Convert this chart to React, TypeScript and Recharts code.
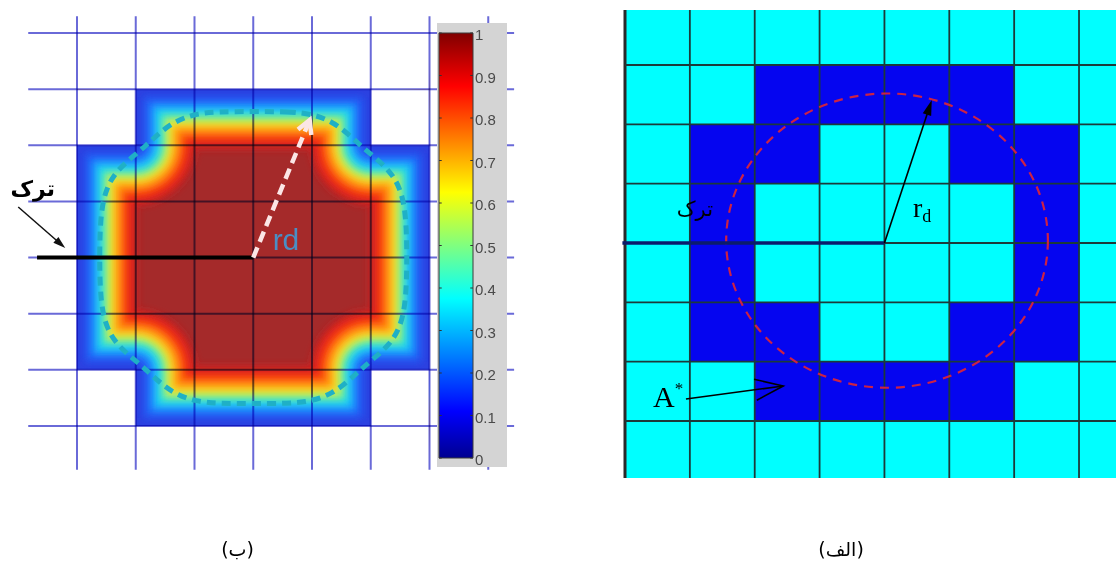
import React from 'react'
import { ComposedChart, XAxis, YAxis, Scatter, ReferenceArea, ReferenceLine, ReferenceDot } from 'recharts'

// ---- left panel (ب): smoothed field over a cross of cells, in grid units ----
// column lines j = 0..7, row lines i = 0..7 (i grows downward)
const crossOutline = [
  { x: 1, y: 1 }, { x: 5, y: 1 }, { x: 5, y: 2 }, { x: 6, y: 2 }, { x: 6, y: 6 }, { x: 5, y: 6 },
  { x: 5, y: 7 }, { x: 1, y: 7 }, { x: 1, y: 6 }, { x: 0, y: 6 }, { x: 0, y: 2 }, { x: 1, y: 2 }, { x: 1, y: 1 },
]
// depth (grid units, from the cross edge) where each colour band ends
const bandDepth = [1.03, 0.93, 0.83, 0.73, 0.63, 0.54, 0.46, 0.36, 0.26, 0.14]
const bandColor = ['#d42424', '#f22a18', '#ff6a10', '#ffaa14', '#f4e82a', '#90f080', '#28e0e8', '#1aa8ff', '#2060f8', '#2b3fe0']
const coreColor = '#a52a2a'

// the dashed cyan level line
const dashedContour = [
  { x: 3, y: 1.4 }, { x: 3.6, y: 1.4 }, { x: 4.0, y: 1.44 }, { x: 4.35, y: 1.58 }, { x: 4.62, y: 1.8 }, { x: 4.82, y: 2.0 },
  { x: 5.05, y: 2.2 }, { x: 5.32, y: 2.45 }, { x: 5.5, y: 2.75 }, { x: 5.6, y: 3.2 }, { x: 5.62, y: 4 },
  { x: 5.6, y: 4.8 }, { x: 5.5, y: 5.25 }, { x: 5.32, y: 5.55 }, { x: 5.05, y: 5.8 }, { x: 4.82, y: 6.0 },
  { x: 4.62, y: 6.2 }, { x: 4.35, y: 6.42 }, { x: 4.0, y: 6.56 }, { x: 3.6, y: 6.6 }, { x: 3, y: 6.6 },
  { x: 2.4, y: 6.6 }, { x: 2.0, y: 6.56 }, { x: 1.65, y: 6.42 }, { x: 1.38, y: 6.2 }, { x: 1.18, y: 6.0 },
  { x: 0.95, y: 5.8 }, { x: 0.68, y: 5.55 }, { x: 0.5, y: 5.25 }, { x: 0.4, y: 4.8 }, { x: 0.38, y: 4 },
  { x: 0.4, y: 3.2 }, { x: 0.5, y: 2.75 }, { x: 0.68, y: 2.45 }, { x: 0.95, y: 2.2 }, { x: 1.18, y: 2.0 },
  { x: 1.38, y: 1.8 }, { x: 1.65, y: 1.58 }, { x: 2.0, y: 1.44 }, { x: 2.4, y: 1.4 },
]
const leftCols = [0, 1, 2, 3, 4, 5, 6, 7]
const leftRows = [0, 1, 2, 3, 4, 5, 6, 7]

// colour bar
const cbTicks = [0, 0.1, 0.2, 0.3, 0.4, 0.5, 0.6, 0.7, 0.8, 0.9, 1]
const cbRange = [{ x: 0, y: 0 }, { x: 1, y: 1 }]
const jetStops: [number, string][] = [
  [0, '#000090'], [0.11, '#0000ff'], [0.375, '#00ffff'], [0.625, '#ffff00'], [0.875, '#ff0000'], [1, '#800000'],
]

// ---- right panel (الف): cells, column lines k = 0..7, row lines h = 0..6 ----
const rightCols = [0, 1, 2, 3, 4, 5, 6, 7]
const rightRows = [0, 1, 2, 3, 4, 5, 6]
// [column, row] of the dark cells; row r spans h from r-1 to r
const darkCells = [
  [2, 1], [3, 1], [4, 1], [5, 1],
  [1, 2], [2, 2], [5, 2], [6, 2],
  [1, 3], [6, 3],
  [1, 4], [6, 4],
  [1, 5], [2, 5], [5, 5], [6, 5],
  [2, 6], [3, 6], [4, 6], [5, 6],
]

// layout
const LW = 520, LH = 500
const LX0 = 77, LDX = 58.75, LY0 = 33, LDY = 56.14
const jMin = -LX0 / LDX, jMax = (LW - LX0) / LDX
const iMin = -LY0 / LDY, iMax = (LH - LY0) / LDY
const unit = (LDX + LDY) / 2

const RW = 496, RH = 480
const RX0 = 5, RDX = 64.86, RY0 = 65, RDY = 59.33
const kMin = -RX0 / RDX, kMax = (RW - RX0) / RDX
const hMin = -RY0 / RDY, hMax = (RH - RY0) / RDY
const rTop = -55 / RDY, rBottom = 413 / RDY

// white masks around the cross [x1, x2, y1, y2]
const outsideBoxes = [
  [jMin, 0, iMin, iMax], [6, jMax, iMin, iMax], [0, 6, iMin, 1], [0, 6, 7, iMax],
  [0, 1, 1, 2], [5, 6, 1, 2], [0, 1, 6, 7], [5, 6, 6, 7],
]

const noDot = () => <g />

const arrowShape = (o: { color: string; width: number; head: number; open?: boolean; dash?: string; spread?: number }) =>
  (p: any) => {
    const { x1, y1, x2, y2 } = p
    const a = Math.atan2(y2 - y1, x2 - x1)
    const s = o.spread ?? 0.36
    const lx = x2 - o.head * Math.cos(a - s), ly = y2 - o.head * Math.sin(a - s)
    const rx = x2 - o.head * Math.cos(a + s), ry = y2 - o.head * Math.sin(a + s)
    const ex = o.open ? x2 : x2 - o.head * 0.85 * Math.cos(a)
    const ey = o.open ? y2 : y2 - o.head * 0.85 * Math.sin(a)
    return (
      <g>
        <line x1={x1} y1={y1} x2={ex} y2={ey} stroke={o.color} strokeWidth={o.width} strokeDasharray={o.dash} />
        {o.open
          ? <polyline points={`${lx},${ly} ${x2},${y2} ${rx},${ry}`} fill="none" stroke={o.color} strokeWidth={o.width} strokeLinejoin="miter" />
          : <polygon points={`${lx},${ly} ${x2},${y2} ${rx},${ry}`} fill={o.color} />}
      </g>
    )
  }

const textShape = (content: React.ReactNode, style: any) => (p: any) => (
  <text x={p.cx} y={p.cy} {...style}>{content}</text>
)

function LeftPanel() {
  return (
    <ComposedChart width={LW} height={LH} margin={{ top: 0, right: 0, bottom: 0, left: 0 }}>
      <XAxis type="number" dataKey="x" hide domain={[jMin, jMax]} allowDataOverflow />
      <YAxis type="number" dataKey="y" hide domain={[iMin, iMax]} reversed allowDataOverflow />
      <Scatter data={crossOutline} isAnimationActive={false} shape={noDot} zIndex={1}
        line={{ fill: coreColor, stroke: 'none' }} />
      {bandDepth.map((d, k) => (
        <Scatter key={'b' + k} data={crossOutline} isAnimationActive={false} shape={noDot} zIndex={2 + k}
          line={{ stroke: bandColor[k], strokeWidth: 2 * d * unit, strokeLinejoin: 'round', strokeLinecap: 'round', fill: 'none', filter: 'url(#hmBlur)' }} />
      ))}
      {outsideBoxes.map((b, k) => (
        <ReferenceArea key={'m' + k} x1={b[0]} x2={b[1]} y1={b[2]} y2={b[3]} fill="#ffffff" fillOpacity={1} stroke="none" ifOverflow="visible" zIndex={20} />
      ))}
      {leftCols.map((j) => (
        <ReferenceLine key={'v' + j} segment={[{ x: j, y: -0.3 }, { x: j, y: 7.78 }]} stroke="#6a6ad8" strokeWidth={2}
          style={{ mixBlendMode: 'multiply' }} ifOverflow="visible" zIndex={30} />
      ))}
      {leftRows.map((i) => (
        <ReferenceLine key={'h' + i} segment={[{ x: -0.83, y: i }, { x: 7.44, y: i }]} stroke="#6a6ad8" strokeWidth={2}
          style={{ mixBlendMode: 'multiply' }} ifOverflow="visible" zIndex={30} />
      ))}
      <Scatter data={dashedContour} isAnimationActive={false} shape={noDot} lineJointType="basisClosed" zIndex={40}
        line={{ stroke: '#1fb0c6', strokeWidth: 5, strokeDasharray: '9 6', fill: 'none' }} />
      <ReferenceLine segment={[{ x: -0.68, y: 4.09 }, { x: 0.1, y: 4.09 }]} stroke="#888" strokeWidth={5}
        strokeOpacity={0.6} filter="url(#shadowBlur)" ifOverflow="visible" zIndex={45} />
      <ReferenceLine segment={[{ x: -0.68, y: 4 }, { x: 3, y: 4 }]} stroke="#000" strokeWidth={4} ifOverflow="visible" zIndex={50} />
      <ReferenceLine segment={[{ x: 3, y: 4 }, { x: 3.96, y: 1.55 }]} ifOverflow="visible" zIndex={51}
        shape={arrowShape({ color: '#fbe6e6', width: 4.5, head: 15, open: true, dash: '11 6', spread: 0.5 })} />
      <ReferenceLine segment={[{ x: -1.0, y: 3.1 }, { x: -0.2, y: 3.83 }]} ifOverflow="visible" zIndex={52}
        shape={arrowShape({ color: '#111', width: 1.5, head: 13, spread: 0.3 })} />
      <ReferenceDot x={3.33} y={3.865} ifOverflow="visible" zIndex={60}
        shape={textShape('rd', { fontFamily: 'Liberation Sans, Arial, sans-serif', fontSize: 30, fill: '#4a8ec4' })} />
      <ReferenceDot x={-0.374} y={2.9} ifOverflow="visible" zIndex={60}
        shape={textShape('ترک', { fontFamily: 'DejaVu Sans, sans-serif', fontSize: 22, fontWeight: 'bold', fill: '#000', textAnchor: 'end' })} />
    </ComposedChart>
  )
}

function ColorBar() {
  return (
    <ComposedChart width={70} height={454} margin={{ top: 10, right: 0, bottom: 19, left: 2 }}>
      <XAxis type="number" dataKey="x" hide domain={[0, 1]} allowDataOverflow />
      <YAxis type="number" dataKey="y" orientation="right" domain={[0, 1]} ticks={cbTicks} width={34} allowDataOverflow
        axisLine={false} tickLine={false} tickSize={0} tickMargin={2}
        tick={{ fill: '#4a4a4a', fontSize: 15, fontFamily: 'Liberation Sans, Arial, sans-serif', dy: 2 }}
        tickFormatter={(v: number) => (v === 0 ? '0' : v === 1 ? '1' : v.toFixed(1))} />
      <Scatter data={cbRange} isAnimationActive={false} shape={noDot} />
      <ReferenceArea x1={0} x2={1} y1={0} y2={1} fill="url(#jet)" fillOpacity={1} stroke="#3a3a3a" strokeWidth={1} ifOverflow="visible" zIndex={5} />
      {cbTicks.map((t) => (
        <ReferenceLine key={'l' + t} segment={[{ x: 0, y: t }, { x: 0.08, y: t }]} stroke="#333" strokeWidth={1} ifOverflow="visible" zIndex={6} />
      ))}
      {cbTicks.map((t) => (
        <ReferenceLine key={'r' + t} segment={[{ x: 0.92, y: t }, { x: 1, y: t }]} stroke="#333" strokeWidth={1} ifOverflow="visible" zIndex={6} />
      ))}
    </ComposedChart>
  )
}

function RightPanel() {
  return (
    <ComposedChart width={RW} height={RH} margin={{ top: 0, right: 0, bottom: 0, left: 0 }}>
      <XAxis type="number" dataKey="x" hide domain={[kMin, kMax]} allowDataOverflow />
      <YAxis type="number" dataKey="y" hide domain={[hMin, hMax]} reversed allowDataOverflow />
      <ReferenceArea x1={0} x2={kMax} y1={rTop} y2={rBottom} fill="#00ffff" fillOpacity={1} stroke="none" ifOverflow="visible" zIndex={1} />
      {darkCells.map(([c, r]) => (
        <ReferenceArea key={c + '-' + r} x1={c} x2={c + 1} y1={r - 1} y2={r} fill="#0505f0" fillOpacity={1} stroke="none" ifOverflow="visible" zIndex={2} />
      ))}
      {rightCols.map((k) => (
        <ReferenceLine key={'v' + k} segment={[{ x: k, y: rTop }, { x: k, y: rBottom }]}
          stroke={k === 0 ? '#2a2a2a' : '#1c3a3a'} strokeWidth={k === 0 ? 3 : 1.8} ifOverflow="visible" zIndex={3} />
      ))}
      {rightRows.map((h) => (
        <ReferenceLine key={'h' + h} segment={[{ x: 0, y: h }, { x: kMax, y: h }]} stroke="#1c3a3a" strokeWidth={1.8} ifOverflow="visible" zIndex={3} />
      ))}
      <ReferenceArea x1={4.04 - 2.48} x2={4.04 + 2.48} y1={2.96 - 2.48} y2={2.96 + 2.48} ifOverflow="visible" zIndex={4}
        shape={(p: any) => (
          <ellipse cx={p.x + p.width / 2} cy={p.y + p.height / 2} rx={Math.abs(p.width) / 2} ry={Math.abs(p.height) / 2}
            fill="none" stroke="#cc2244" strokeWidth={2.2} strokeDasharray="9 7" />
        )} />
      <ReferenceLine segment={[{ x: -0.04, y: 3 }, { x: 4, y: 3 }]} stroke="#0b1c6b" strokeWidth={3.5} ifOverflow="visible" zIndex={5} />
      <ReferenceLine segment={[{ x: 4, y: 3 }, { x: 4.73, y: 0.59 }]} ifOverflow="visible" zIndex={6}
        shape={arrowShape({ color: '#000', width: 1.6, head: 16, spread: 0.28 })} />
      <ReferenceLine segment={[{ x: 0.94, y: 5.63 }, { x: 2.44, y: 5.41 }]} ifOverflow="visible" zIndex={6}
        shape={arrowShape({ color: '#000', width: 1.6, head: 30, open: true, spread: 0.36 })} />
      <ReferenceDot x={4.44} y={2.56} ifOverflow="visible" zIndex={7}
        shape={textShape([<tspan key="r">r</tspan>, <tspan key="d" fontSize={18} dy={5}>d</tspan>],
          { fontFamily: 'Liberation Serif, Times New Roman, serif', fontSize: 28, fill: '#000' })} />
      <ReferenceDot x={0.432} y={5.764} ifOverflow="visible" zIndex={7}
        shape={textShape([<tspan key="a">A</tspan>, <tspan key="s" fontSize={17} dy={-13}>*</tspan>],
          { fontFamily: 'Liberation Serif, Times New Roman, serif', fontSize: 30, fill: '#000' })} />
      <ReferenceDot x={1.357} y={2.545} ifOverflow="visible" zIndex={7}
        shape={textShape('ترک', { fontFamily: 'DejaVu Sans, sans-serif', fontSize: 21, fill: '#000', textAnchor: 'end' })} />
    </ComposedChart>
  )
}

export default function App() {
  return (
    <div style={{ position: 'absolute', left: 0, top: 0, width: 1116, height: 561, background: '#fff', overflow: 'hidden' }}>
      <svg width={0} height={0} style={{ position: 'absolute' }}>
        <defs>
          <filter id="hmBlur" x="-35%" y="-35%" width="170%" height="170%">
            <feGaussianBlur stdDeviation="4" />
          </filter>
          <filter id="shadowBlur" x="-20%" y="-200%" width="140%" height="500%">
            <feGaussianBlur stdDeviation="2.5" />
          </filter>
          <linearGradient id="jet" x1="0" y1="1" x2="0" y2="0">
            {jetStops.map(([o, c]) => <stop key={o} offset={o} stopColor={c} />)}
          </linearGradient>
        </defs>
      </svg>
      <div style={{ position: 'absolute', left: 0, top: 0 }}>
        <LeftPanel />
      </div>
      <div style={{ position: 'absolute', left: 437, top: 23, width: 70, height: 444, background: '#d4d4d4', overflow: 'visible' }}>
        <ColorBar />
      </div>
      <div style={{ position: 'absolute', left: 620, top: 0 }}>
        <RightPanel />
      </div>
      <svg width={1116} height={40} style={{ position: 'absolute', left: 0, top: 521 }}>
        <text x={237.5} y={34.5} textAnchor="middle" fontFamily="DejaVu Sans, sans-serif" fontSize={19} fill="#000">(ب)</text>
        <text x={841} y={34.5} textAnchor="middle" fontFamily="DejaVu Sans, sans-serif" fontSize={19} fill="#000">(الف)</text>
      </svg>
    </div>
  )
}
